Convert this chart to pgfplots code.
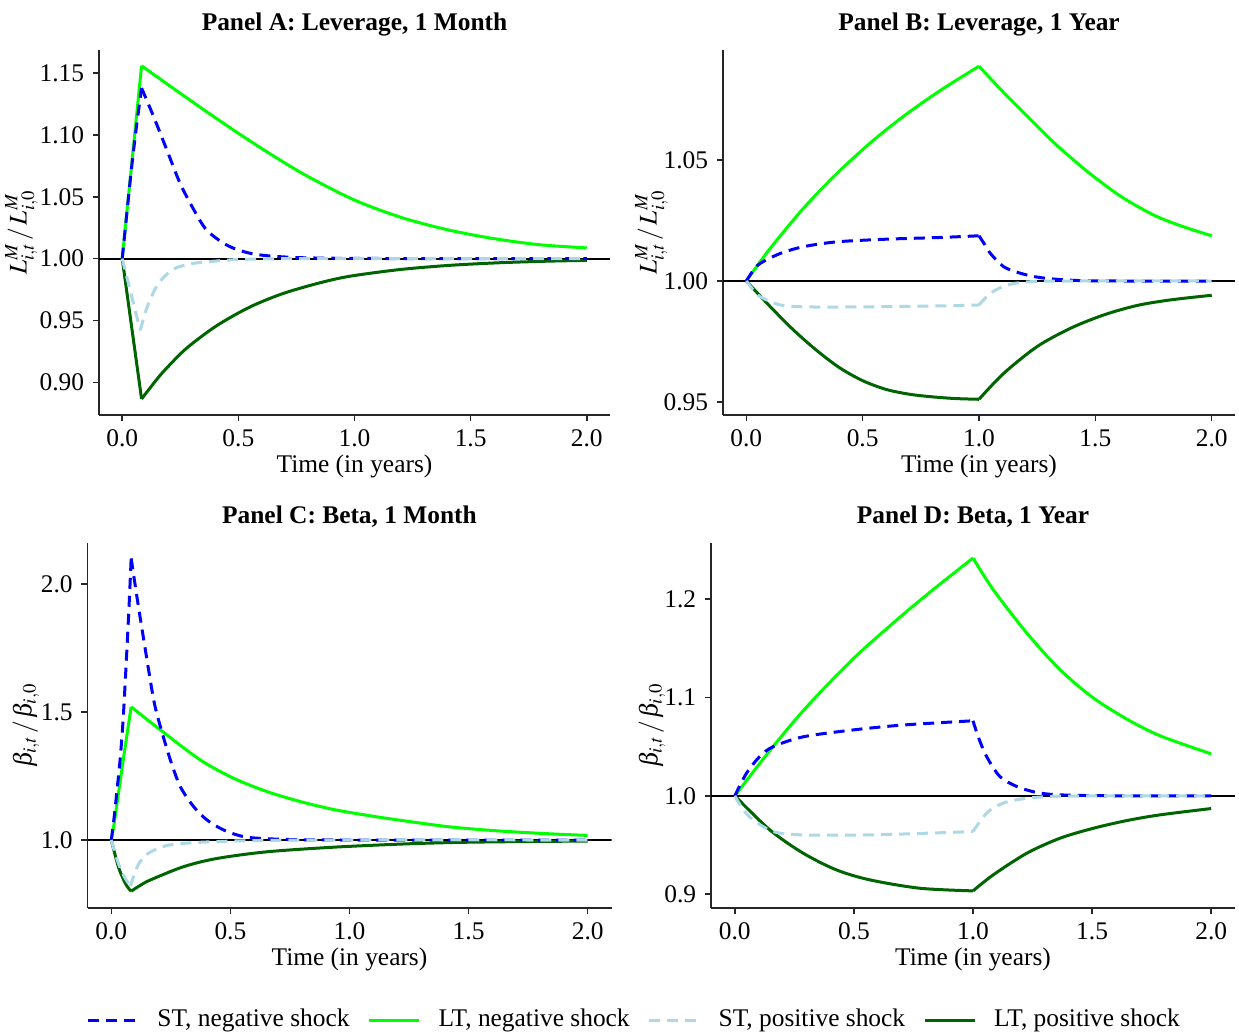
\documentclass[border=0pt]{standalone}
\usepackage{mathptmx}
\usepackage{fontspec}
\setmainfont{Liberation Serif}
\usepackage{pgfplots}
\pgfplotsset{compat=1.18}

\definecolor{stneg}{RGB}{0,0,255}
\definecolor{ltneg}{RGB}{0,255,0}
\definecolor{stpos}{RGB}{173,216,230}
\definecolor{ltpos}{RGB}{0,100,0}

\pgfplotsset{
  panel/.style={
    scale only axis,
    xmin=-0.1, xmax=2.1,
    axis x line=bottom, axis y line=left,
    axis line style={-, line width=0.75pt, black!85},
    every outer x axis line/.append style={-},
    every outer y axis line/.append style={-},
    tick align=outside,
    major tick length=3pt,
    tick style={line width=0.75pt, black!85},
    xtick={0,0.5,1,1.5,2},
    xticklabels={0.0,0.5,1.0,1.5,2.0},
    xlabel={Time (in years)},
    xlabel style={at={(axis description cs:0.5,0)}, anchor=base, yshift=-28.5pt},
    every axis title shift=0pt,
    title style={font=\bfseries, at={(axis description cs:0.5,1)}, anchor=base, yshift=10pt},
  },
  stnegS/.style={color=stneg, line width=1.5pt, dash pattern=on 5.5pt off 3.5pt},
  ltnegS/.style={color=ltneg, line width=1.5pt},
  stposS/.style={color=stpos, line width=1.5pt, dash pattern=on 5.5pt off 3.5pt},
  ltposS/.style={color=ltpos, line width=1.5pt},
  hl/.style={black, line width=1pt, forget plot},
}

\begin{document}
\fontsize{12.7}{15.2}\selectfont
\begin{tikzpicture}
\path[use as bounding box] (0pt,0pt) rectangle (619.5pt,-517pt);

% ---------------- Panel A ----------------
\begin{axis}[panel,
  at={(49.5pt,-207.5pt)}, anchor=south west,
  width=255.5pt, height=182.5pt,
  ymin=0.8735, ymax=1.1688,
  ytick={0.90,0.95,1.00,1.05,1.10,1.15},
  yticklabels={0.90,0.95,1.00,1.05,1.10,1.15},
  title={Panel A: Leverage, 1 Month},
  ylabel={$L^{M}_{i,t}\,/\,L^{M}_{i,0}$},
  ylabel style={at={(axis description cs:-0.1517,0.5)}, anchor=center},
]
\addplot[hl] coordinates {(-0.1,1) (2.1,1)};
% LT negative
\addplot[ltnegS, forget plot] coordinates {(0,1.000) (0.0833,1.156)};
\addplot[ltnegS, smooth, forget plot] coordinates {(0.0833,1.156) (0.2,1.1404) (0.35,1.1206) (0.5,1.1014) (0.65,1.0832) (0.8,1.0664) (1.0,1.0474) (1.2,1.0334) (1.4,1.0234) (1.6,1.0162) (1.8,1.0112) (2.0,1.0087)};
% LT positive
\addplot[ltposS, forget plot] coordinates {(0,1.000) (0.0833,0.8865)};
\addplot[ltposS, smooth, forget plot] coordinates {(0.0833,0.8865) (0.15,0.9026) (0.192,0.9116) (0.278,0.9277) (0.407,0.9458) (0.551,0.9610) (0.694,0.9719) (0.852,0.9805) (0.981,0.9858) (1.196,0.9912) (1.411,0.9946) (1.626,0.9967) (1.841,0.9980) (2.0,0.9986)};
% ST negative
\addplot[stnegS, smooth, forget plot] coordinates {(0,1.000) (0.02,1.037) (0.04,1.073) (0.06,1.105) (0.0833,1.138)};
\addplot[stnegS, smooth, forget plot] coordinates {(0.0833,1.138) (0.135,1.115) (0.192,1.088) (0.249,1.061) (0.307,1.040) (0.364,1.023) (0.45,1.011) (0.536,1.005) (0.622,1.0024) (0.765,1.0008) (1.0,1.0002) (1.5,1.0) (2.0,1.0)};
% ST positive
\addplot[stposS, smooth, forget plot] coordinates {(0,1.000) (0.02,0.985) (0.04,0.970) (0.06,0.955) (0.078,0.942)};
\addplot[stposS, smooth, forget plot] coordinates {(0.078,0.942) (0.10,0.957) (0.13,0.971) (0.16,0.981) (0.22,0.9915) (0.3,0.996) (0.4,0.998) (0.5,0.9993) (0.7,1.0) (1.0,1.0) (2.0,1.0)};
\end{axis}

% ---------------- Panel B ----------------
\begin{axis}[panel,
  at={(361.5pt,-207.5pt)}, anchor=south west,
  width=256pt, height=182.5pt,
  ymin=0.9446, ymax=1.0955,
  ytick={0.95,1.00,1.05},
  yticklabels={0.95,1.00,1.05},
  title={Panel B: Leverage, 1 Year},
  ylabel={$L^{M}_{i,t}\,/\,L^{M}_{i,0}$},
  ylabel style={at={(axis description cs:-0.1396,0.5)}, anchor=center},
]
\addplot[hl] coordinates {(-0.1,1) (2.1,1)};
\addplot[ltnegS, smooth, forget plot] coordinates {(0,1.000) (0.103,1.0135) (0.247,1.0302) (0.39,1.0445) (0.533,1.0571) (0.677,1.0682) (0.834,1.0788) (1.0,1.0888)};
\addplot[ltnegS, smooth, forget plot] coordinates {(1.0,1.0888) (1.1,1.0785) (1.2,1.0688) (1.322,1.0572) (1.465,1.0453) (1.609,1.0350) (1.752,1.0272) (1.876,1.0225) (2.0,1.0187)};
\addplot[ltposS, smooth, forget plot] coordinates {(0,1.000) (0.1,0.9897) (0.2,0.9800) (0.3,0.9715) (0.4,0.9642) (0.5,0.9588) (0.6,0.9552) (0.7,0.9532) (0.8,0.9521) (0.9,0.9514) (1.0,0.9511)};
\addplot[ltposS, smooth, forget plot] coordinates {(1.0,0.9511) (1.107,0.9619) (1.25,0.9729) (1.394,0.9805) (1.537,0.9860) (1.68,0.9899) (1.824,0.9922) (2.0,0.9941)};
\addplot[stnegS, smooth, forget plot] coordinates {(0,1.000) (0.031,1.0045) (0.06,1.0073) (0.146,1.0114) (0.247,1.0142) (0.39,1.0162) (0.605,1.0173) (0.834,1.0180) (1.0,1.0187)};
\addplot[stnegS, smooth, forget plot] coordinates {(1.0,1.0187) (1.025,1.0150) (1.049,1.0114) (1.106,1.0059) (1.178,1.0032) (1.264,1.0014) (1.4,1.0003) (1.6,1.0) (2.0,1.0)};
\addplot[stposS, smooth, forget plot] coordinates {(0,1.000) (0.03,0.9963) (0.06,0.9935) (0.146,0.9901) (0.257,0.9893) (0.5,0.9893) (0.834,0.9897) (1.0,0.9901)};
\addplot[stposS, smooth, forget plot] coordinates {(1.0,0.9901) (1.049,0.9949) (1.12,0.9983) (1.22,0.9997) (1.4,1.0) (2.0,1.0)};
\end{axis}

% ---------------- Panel C ----------------
\begin{axis}[panel,
  at={(43.75pt,-454pt)}, anchor=south west,
  width=262pt, height=182.5pt,
  ymin=0.7344, ymax=2.160,
  ytick={1.0,1.5,2.0},
  yticklabels={1.0,1.5,2.0},
  title={Panel C: Beta, 1 Month},
  ylabel={$\beta_{i,t}\,/\,\beta_{i,0}$},
  ylabel style={at={(axis description cs:-0.1174,0.5)}, anchor=center},
  legend columns=4,
  legend style={at={(1.045,-0.307)}, anchor=center, draw=none, fill=none,
    /tikz/every odd column/.append style={column sep=7pt},
    /tikz/every even column/.append style={column sep=7pt}},
  legend image code/.code={\draw[#1] (0pt,0pt) -- (25pt,0pt);},
]
\addlegendimage{stnegS}\addlegendentry{ST, negative shock}
\addlegendimage{ltnegS}\addlegendentry{LT, negative shock}
\addlegendimage{stposS}\addlegendentry{ST, positive shock}
\addlegendimage{ltposS}\addlegendentry{LT, positive shock}
\addplot[hl] coordinates {(-0.1,1) (2.1,1)};
\addplot[ltnegS, smooth, forget plot] coordinates {(0,1.000) (0.012,1.065) (0.024,1.143) (0.052,1.325) (0.0833,1.52)};
\addplot[ltnegS, smooth, forget plot] coordinates {(0.0833,1.52) (0.206,1.430) (0.374,1.3125) (0.514,1.241) (0.654,1.189) (0.794,1.150) (0.934,1.119) (1.074,1.0965) (1.214,1.077) (1.424,1.051) (1.634,1.035) (1.845,1.024) (2.0,1.018)};
\addplot[ltposS, smooth, forget plot] coordinates {(0,1.000) (0.014,0.948) (0.034,0.883) (0.063,0.824) (0.0833,0.80)};
\addplot[ltposS, smooth, forget plot] coordinates {(0.0833,0.80) (0.12,0.822) (0.164,0.844) (0.304,0.896) (0.444,0.928) (0.654,0.954) (0.934,0.972) (1.214,0.984) (1.424,0.990) (1.634,0.993) (2.0,0.996)};
\addplot[stnegS, smooth, forget plot] coordinates {(0,1.000) (0.012,1.09) (0.024,1.195) (0.038,1.325) (0.052,1.508) (0.073,1.885) (0.0833,2.10)};
\addplot[stnegS, smooth, forget plot] coordinates {(0.0833,2.10) (0.11,1.935) (0.14,1.76) (0.178,1.547) (0.206,1.443) (0.248,1.3125) (0.29,1.208) (0.346,1.130) (0.402,1.078) (0.472,1.039) (0.556,1.013) (0.654,1.005) (0.8,1.001) (1.0,1.0) (2.0,1.0)};
\addplot[stposS, smooth, forget plot] coordinates {(0,1.000) (0.02,0.935) (0.04,0.885) (0.06,0.848) (0.08,0.82)};
\addplot[stposS, smooth, forget plot] coordinates {(0.08,0.82) (0.112,0.902) (0.154,0.947) (0.231,0.978) (0.343,0.9895) (0.51,0.996) (0.7,0.999) (1.0,1.0) (2.0,1.0)};
\end{axis}

% ---------------- Panel D ----------------
\begin{axis}[panel,
  at={(355.5pt,-454pt)}, anchor=south west,
  width=262pt, height=182.5pt,
  ymin=0.886, ymax=1.257,
  ytick={0.9,1.0,1.1,1.2},
  yticklabels={0.9,1.0,1.1,1.2},
  title={Panel D: Beta, 1 Year},
  ylabel={$\beta_{i,t}\,/\,\beta_{i,0}$},
  ylabel style={at={(axis description cs:-0.1126,0.5)}, anchor=center},
]
\addplot[hl] coordinates {(-0.1,1) (2.1,1)};
\addplot[ltnegS, smooth, forget plot] coordinates {(0,1.000) (0.147,1.046) (0.3,1.090) (0.5,1.140) (0.7,1.183) (0.85,1.213) (1.0,1.2417)};
\addplot[ltnegS, smooth, forget plot] coordinates {(1.0,1.2417) (1.085,1.2095) (1.226,1.1655) (1.366,1.128) (1.506,1.0994) (1.646,1.078) (1.786,1.061) (2.0,1.0427)};
\addplot[ltposS, smooth, forget plot] coordinates {(0,1.000) (0.147,0.9654) (0.287,0.9417) (0.427,0.9247) (0.567,0.9146) (0.777,0.9061) (1.0,0.9034)};
\addplot[ltposS, smooth, forget plot] coordinates {(1.0,0.9034) (1.085,0.9197) (1.226,0.9417) (1.366,0.957) (1.506,0.9671) (1.646,0.9749) (1.786,0.9807) (2.0,0.9871)};
\addplot[stnegS, smooth, forget plot] coordinates {(0,1.000) (0.049,1.023) (0.105,1.040) (0.161,1.050) (0.287,1.060) (0.497,1.067) (0.707,1.072) (1.0,1.0763)};
\addplot[stnegS, smooth, forget plot] coordinates {(1.0,1.0763) (1.022,1.060) (1.057,1.040) (1.113,1.0196) (1.184,1.0095) (1.268,1.0034) (1.366,1.001) (1.6,1.0) (2.0,1.0)};
\addplot[stposS, smooth, forget plot] coordinates {(0,1.000) (0.035,0.986) (0.077,0.9756) (0.161,0.9637) (0.287,0.9603) (0.6,0.9605) (1.0,0.9637)};
\addplot[stposS, smooth, forget plot] coordinates {(1.0,0.9637) (1.057,0.9824) (1.127,0.9926) (1.226,0.9976) (1.35,0.9995) (1.6,1.0) (2.0,1.0)};
\end{axis}
\end{tikzpicture}
\end{document}
